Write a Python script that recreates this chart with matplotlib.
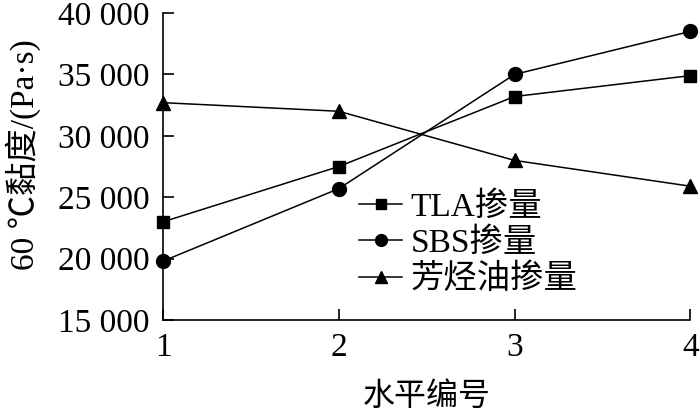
import matplotlib
matplotlib.use('Agg')
import matplotlib.pyplot as plt
from matplotlib.ticker import FuncFormatter

plt.rcParams['font.family'] = ['Liberation Serif', 'Noto Sans CJK SC']

levels = [1, 2, 3, 4]
tla = [23000, 27500, 33200, 34900]
sbs = [19800, 25700, 35000, 38500]
oil = [32700, 32000, 28000, 25900]
names = ['TLA掺量', 'SBS掺量', '芳烃油掺量']

fig = plt.figure(figsize=(7, 4.2), dpi=100)
ax = fig.add_axes([0.233, 0.238, 0.753, 0.731])

ax.plot(levels, tla, 'k-', marker='s', ms=8.5, lw=1.1, label=names[0], clip_on=False)
ax.plot(levels, sbs, 'k-', marker='o', ms=10, lw=1.1, label=names[1], clip_on=False)
ax.plot(levels, oil, 'k-', marker='^', ms=10, lw=1.1, label=names[2], clip_on=False)

ax.set_xlim(1, 4)
ax.set_ylim(15000, 40000)
ax.set_xticks(levels)
ax.set_yticks(range(15000, 40001, 5000))
ax.yaxis.set_major_formatter(FuncFormatter(lambda v, p: f'{int(v):,}'.replace(',', ' ')))

for s in ['top', 'right']:
    ax.spines[s].set_visible(False)
for s in ['left', 'bottom']:
    ax.spines[s].set_linewidth(1.2)
ax.tick_params(direction='in', length=8, width=1.2, labelsize=24)
ax.tick_params(axis='y', pad=10)
ax.tick_params(axis='x', pad=9)

ax.set_xlabel('水平编号', fontsize=23, labelpad=14)
ax.set_ylabel('60 ℃黏度/(Pa·s)', fontsize=24, labelpad=12)
ax.yaxis.label.set_y(0.54)

ax.legend(loc='upper left', bbox_to_anchor=(0.34, 0.47), frameon=False, fontsize=24,
          handlelength=1.3, handletextpad=0.25, labelspacing=0.15, borderpad=0,
          markerscale=0.85)

fig.savefig('out.png', dpi=100)
